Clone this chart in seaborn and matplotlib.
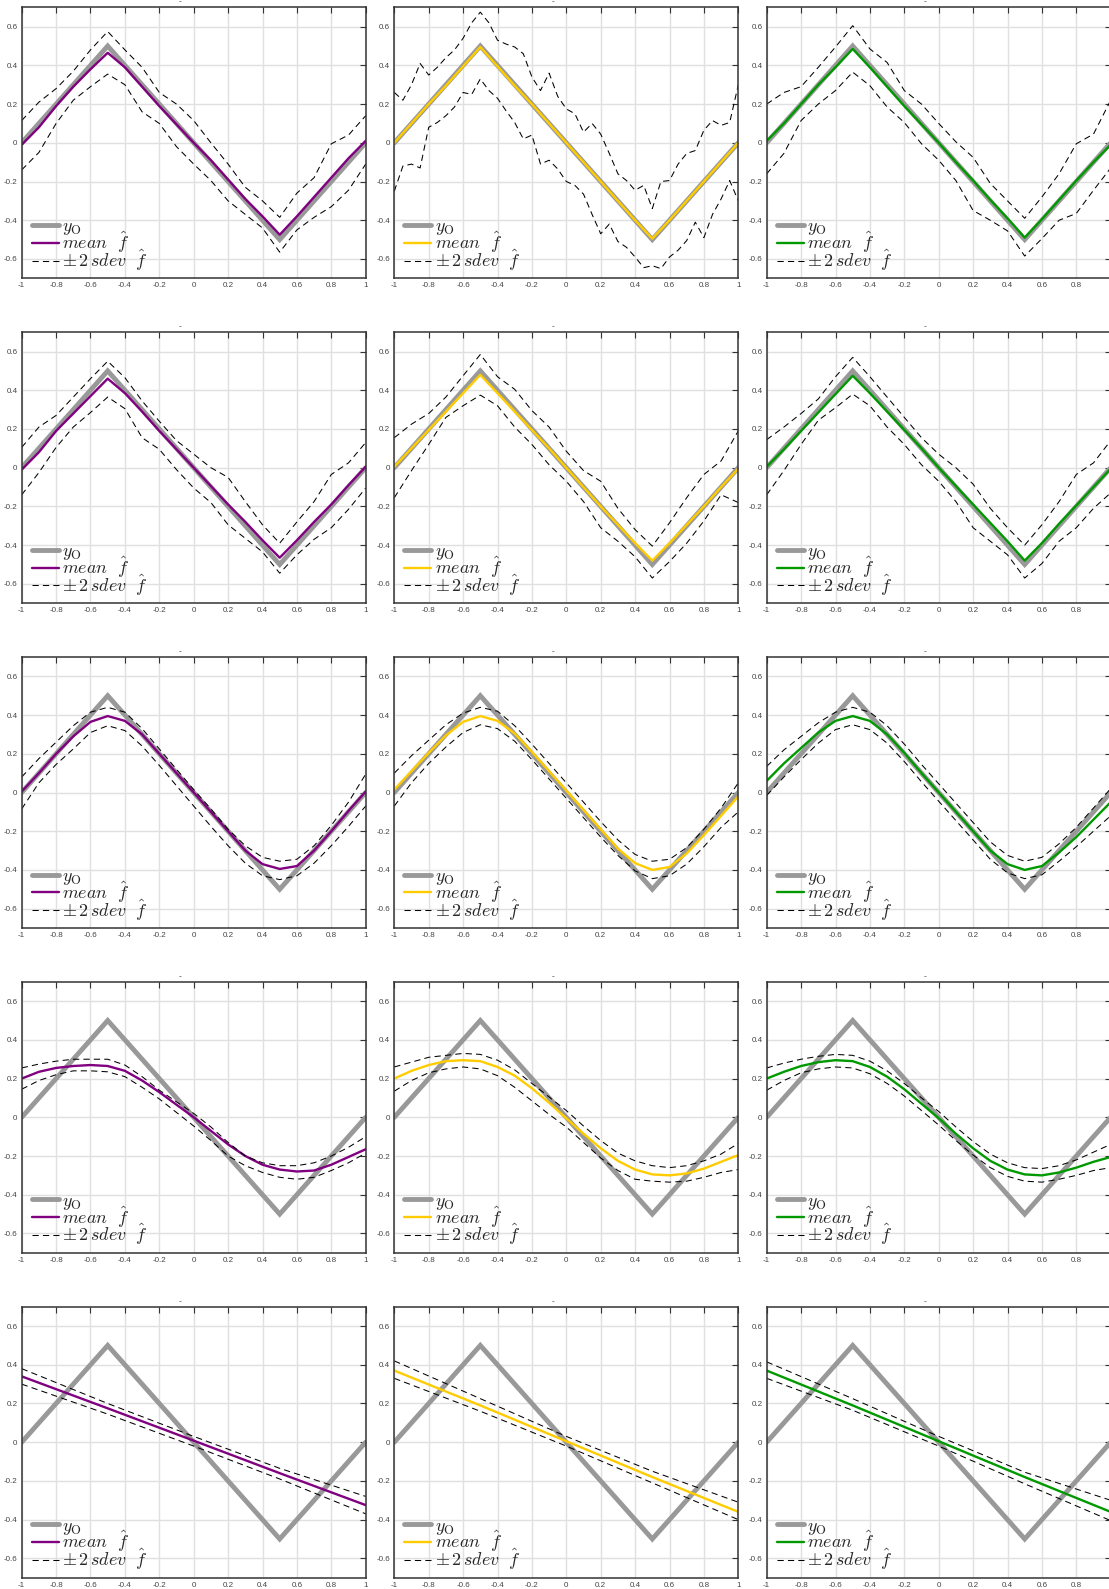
import numpy as np
import pandas as pd
import matplotlib
matplotlib.use("Agg")
import matplotlib.pyplot as plt
from matplotlib.lines import Line2D
import seaborn as sns

# ---------------- data ----------------
X21 = [-1.0, -0.9, -0.8, -0.7, -0.6, -0.5, -0.4, -0.3, -0.2, -0.1, 0.0,
       0.1, 0.2, 0.3, 0.4, 0.5, 0.6, 0.7, 0.8, 0.9, 1.0]
X41 = [-1.0, -0.95, -0.9, -0.85, -0.8, -0.75, -0.7, -0.65, -0.6, -0.55, -0.5,
       -0.45, -0.4, -0.35, -0.3, -0.25, -0.2, -0.15, -0.1, -0.05, 0.0,
       0.05, 0.1, 0.15, 0.2, 0.25, 0.3, 0.35, 0.4, 0.45, 0.5,
       0.55, 0.6, 0.65, 0.7, 0.75, 0.8, 0.85, 0.9, 0.95, 1.0]
X5 = [-1.0, -0.5, 0.0, 0.5, 1.0]

y0_x = [-1.0, -0.5, 0.5, 1.0]
y0_y = [0.0, 0.5, -0.5, 0.0]

# row 1
mean_r1c1 = [-0.01, 0.08, 0.19, 0.29, 0.38, 0.465, 0.39, 0.29, 0.19, 0.095, 0.0,
             -0.09, -0.19, -0.29, -0.38, -0.475, -0.38, -0.28, -0.18, -0.08, 0.01]
up_r1c1 = [0.115, 0.21, 0.28, 0.37, 0.48, 0.575, 0.48, 0.39, 0.26, 0.2, 0.115,
           0.0, -0.11, -0.23, -0.30, -0.385, -0.26, -0.18, -0.005, 0.04, 0.14]
lo_r1c1 = [-0.14, -0.05, 0.1, 0.22, 0.29, 0.355, 0.30, 0.16, 0.10, -0.02, -0.11,
           -0.195, -0.30, -0.37, -0.44, -0.565, -0.45, -0.385, -0.33, -0.245, -0.11]

mean_r1c2 = [0.0, 0.1, 0.2, 0.295, 0.395, 0.495, 0.395, 0.295, 0.2, 0.1, 0.0,
             -0.1, -0.2, -0.3, -0.4, -0.495, -0.4, -0.3, -0.2, -0.1, 0.0]
up_r1c2 = [0.26, 0.22, 0.30, 0.41, 0.35, 0.39, 0.44, 0.48, 0.54, 0.62, 0.675,
           0.62, 0.53, 0.51, 0.495, 0.46, 0.34, 0.27, 0.36, 0.24, 0.175,
           0.15, 0.055, 0.10, 0.045, -0.055, -0.16, -0.195, -0.245, -0.22, -0.34,
           -0.20, -0.195, -0.11, -0.055, -0.04, 0.065, 0.115, 0.09, 0.105, 0.30]
lo_r1c2 = [-0.25, -0.12, -0.11, -0.13, 0.08, 0.105, 0.14, 0.185, 0.26, 0.25, 0.33,
           0.27, 0.23, 0.165, 0.105, 0.02, 0.04, -0.11, -0.09, -0.135, -0.20,
           -0.22, -0.265, -0.37, -0.47, -0.42, -0.51, -0.54, -0.59, -0.645, -0.635,
           -0.65, -0.59, -0.555, -0.505, -0.41, -0.49, -0.37, -0.29, -0.195, -0.30]

mean_r1c3 = [0.01, 0.1, 0.2, 0.3, 0.39, 0.485, 0.39, 0.29, 0.19, 0.095, 0.0,
             -0.1, -0.195, -0.295, -0.39, -0.49, -0.395, -0.295, -0.195, -0.1, -0.01]
up_r1c3 = [0.2, 0.26, 0.29, 0.39, 0.495, 0.605, 0.485, 0.415, 0.27, 0.2, 0.1,
           0.005, -0.075, -0.21, -0.30, -0.39, -0.28, -0.16, -0.005, 0.045, 0.22]
lo_r1c3 = [-0.16, -0.055, 0.115, 0.2, 0.27, 0.365, 0.295, 0.185, 0.105, -0.005, -0.09,
           -0.195, -0.35, -0.40, -0.455, -0.585, -0.495, -0.40, -0.365, -0.245, -0.13]

# row 2
mean_r2c1 = [-0.01, 0.08, 0.19, 0.28, 0.37, 0.46, 0.385, 0.29, 0.19, 0.095, 0.0,
             -0.095, -0.19, -0.28, -0.375, -0.465, -0.375, -0.28, -0.19, -0.09, 0.005]
up_r2c1 = [0.105, 0.21, 0.27, 0.365, 0.46, 0.55, 0.465, 0.345, 0.24, 0.14, 0.07,
           0.0, -0.05, -0.175, -0.295, -0.39, -0.28, -0.175, -0.035, 0.025, 0.13]
lo_r2c1 = [-0.14, -0.025, 0.105, 0.21, 0.285, 0.365, 0.305, 0.155, 0.095, -0.01, -0.105,
           -0.18, -0.295, -0.365, -0.435, -0.545, -0.45, -0.37, -0.31, -0.215, -0.105]

mean_r2c2 = [0.005, 0.1, 0.195, 0.29, 0.385, 0.48, 0.385, 0.29, 0.195, 0.1, 0.0,
             -0.1, -0.2, -0.295, -0.39, -0.48, -0.39, -0.295, -0.2, -0.1, -0.005]
up_r2c2 = [0.155, 0.225, 0.28, 0.365, 0.475, 0.585, 0.47, 0.405, 0.295, 0.21, 0.085,
           -0.015, -0.07, -0.21, -0.32, -0.405, -0.285, -0.155, -0.035, 0.035, 0.19]
lo_r2c2 = [-0.155, -0.015, 0.12, 0.26, 0.32, 0.375, 0.32, 0.21, 0.12, 0.015, -0.07,
           -0.175, -0.31, -0.38, -0.46, -0.57, -0.485, -0.39, -0.275, -0.14, -0.18]

mean_r2c3 = [0.005, 0.095, 0.19, 0.285, 0.38, 0.475, 0.385, 0.29, 0.195, 0.1, 0.0,
             -0.095, -0.19, -0.285, -0.38, -0.48, -0.39, -0.29, -0.195, -0.1, -0.005]
up_r2c3 = [0.145, 0.21, 0.28, 0.355, 0.47, 0.57, 0.47, 0.365, 0.26, 0.155, 0.07,
           0.0, -0.085, -0.21, -0.31, -0.40, -0.295, -0.175, -0.035, 0.025, 0.14]
lo_r2c3 = [-0.14, -0.015, 0.12, 0.245, 0.31, 0.38, 0.32, 0.21, 0.12, 0.015, -0.07,
           -0.175, -0.31, -0.38, -0.45, -0.57, -0.495, -0.38, -0.31, -0.21, -0.13]

# row 3
mean_r3c1 = [0.005, 0.1, 0.2, 0.29, 0.365, 0.395, 0.37, 0.3, 0.2, 0.1, 0.0,
             -0.1, -0.2, -0.3, -0.37, -0.395, -0.38, -0.3, -0.2, -0.095, 0.005]
up_r3c1 = [0.08, 0.175, 0.26, 0.345, 0.415, 0.44, 0.415, 0.33, 0.225, 0.12, 0.015,
           -0.085, -0.19, -0.275, -0.335, -0.355, -0.345, -0.275, -0.17, -0.05, 0.095]
lo_r3c1 = [-0.085, 0.05, 0.145, 0.225, 0.31, 0.345, 0.32, 0.24, 0.14, 0.035, -0.07,
           -0.175, -0.275, -0.365, -0.43, -0.45, -0.43, -0.365, -0.275, -0.175, -0.07]

mean_r3c2 = [0.015, 0.11, 0.205, 0.295, 0.365, 0.395, 0.37, 0.305, 0.21, 0.11, 0.01,
             -0.09, -0.19, -0.29, -0.365, -0.40, -0.385, -0.315, -0.22, -0.12, -0.02]
up_r3c2 = [0.1, 0.19, 0.27, 0.35, 0.41, 0.44, 0.42, 0.345, 0.25, 0.15, 0.05,
           -0.05, -0.15, -0.245, -0.32, -0.355, -0.345, -0.285, -0.19, -0.08, 0.05]
lo_r3c2 = [-0.07, 0.05, 0.15, 0.235, 0.31, 0.35, 0.33, 0.265, 0.17, 0.07, -0.03,
           -0.13, -0.23, -0.325, -0.405, -0.445, -0.43, -0.37, -0.28, -0.18, -0.1]

mean_r3c3 = [0.06, 0.15, 0.23, 0.31, 0.37, 0.395, 0.37, 0.3, 0.205, 0.1, 0.0,
             -0.1, -0.2, -0.3, -0.37, -0.40, -0.38, -0.31, -0.23, -0.14, -0.05]
up_r3c3 = [0.135, 0.22, 0.29, 0.36, 0.415, 0.44, 0.415, 0.345, 0.25, 0.145, 0.045,
           -0.055, -0.155, -0.255, -0.325, -0.355, -0.335, -0.265, -0.18, -0.08, 0.02]
lo_r3c3 = [-0.015, 0.08, 0.17, 0.255, 0.325, 0.35, 0.325, 0.255, 0.16, 0.055, -0.045,
           -0.145, -0.245, -0.345, -0.415, -0.445, -0.425, -0.355, -0.28, -0.2, -0.12]

# row 4
mean_r4c1 = [0.2, 0.235, 0.255, 0.265, 0.27, 0.265, 0.24, 0.19, 0.13, 0.065, 0.0,
             -0.07, -0.14, -0.2, -0.245, -0.27, -0.28, -0.275, -0.245, -0.205, -0.165]
up_r4c1 = [0.255, 0.275, 0.29, 0.3, 0.3, 0.3, 0.27, 0.21, 0.14, 0.08, 0.02,
           -0.05, -0.13, -0.2, -0.235, -0.25, -0.25, -0.235, -0.2, -0.155, -0.1]
lo_r4c1 = [0.145, 0.19, 0.22, 0.24, 0.24, 0.235, 0.21, 0.155, 0.095, 0.025, -0.045,
           -0.12, -0.2, -0.25, -0.285, -0.31, -0.32, -0.31, -0.275, -0.235, -0.185]

mean_r4c2 = [0.2, 0.24, 0.27, 0.29, 0.295, 0.29, 0.26, 0.215, 0.15, 0.075, -0.005,
             -0.085, -0.16, -0.225, -0.27, -0.295, -0.3, -0.29, -0.265, -0.23, -0.195]
up_r4c2 = [0.26, 0.285, 0.31, 0.32, 0.33, 0.325, 0.295, 0.245, 0.175, 0.105, 0.035,
           -0.045, -0.12, -0.185, -0.225, -0.25, -0.26, -0.25, -0.225, -0.19, -0.135]
lo_r4c2 = [0.135, 0.19, 0.23, 0.25, 0.26, 0.25, 0.215, 0.155, 0.085, 0.015, -0.05,
           -0.13, -0.21, -0.275, -0.32, -0.33, -0.335, -0.33, -0.31, -0.285, -0.27]

mean_r4c3 = [0.2, 0.235, 0.265, 0.285, 0.295, 0.29, 0.26, 0.21, 0.145, 0.07, -0.005,
             -0.085, -0.16, -0.225, -0.27, -0.295, -0.3, -0.285, -0.26, -0.23, -0.205]
up_r4c3 = [0.255, 0.28, 0.3, 0.315, 0.325, 0.32, 0.29, 0.24, 0.175, 0.1, 0.03,
           -0.05, -0.125, -0.19, -0.235, -0.26, -0.265, -0.25, -0.22, -0.18, -0.14]
lo_r4c3 = [0.14, 0.19, 0.23, 0.25, 0.26, 0.255, 0.225, 0.175, 0.11, 0.035, -0.04,
           -0.12, -0.195, -0.26, -0.305, -0.33, -0.335, -0.32, -0.3, -0.275, -0.26]

# row 5
mean_r5c1 = [0.34, 0.175, 0.008, -0.16, -0.325]
up_r5c1 = [0.38, 0.2, 0.03, -0.135, -0.28]
lo_r5c1 = [0.3, 0.145, -0.02, -0.19, -0.37]

mean_r5c2 = [0.37, 0.19, 0.005, -0.18, -0.36]
up_r5c2 = [0.42, 0.225, 0.03, -0.15, -0.31]
lo_r5c2 = [0.33, 0.16, -0.02, -0.21, -0.40]

mean_r5c3 = [0.37, 0.19, 0.005, -0.18, -0.36]
up_r5c3 = [0.415, 0.225, 0.03, -0.155, -0.30]
lo_r5c3 = [0.33, 0.165, -0.02, -0.215, -0.405]

col_colors = ["#800080", "#FFCC00", "#009900"]

panels = [
    [(X21, mean_r1c1, X21, up_r1c1, lo_r1c1),
     (X21, mean_r1c2, X41, up_r1c2, lo_r1c2),
     (X21, mean_r1c3, X21, up_r1c3, lo_r1c3)],
    [(X21, mean_r2c1, X21, up_r2c1, lo_r2c1),
     (X21, mean_r2c2, X21, up_r2c2, lo_r2c2),
     (X21, mean_r2c3, X21, up_r2c3, lo_r2c3)],
    [(X21, mean_r3c1, X21, up_r3c1, lo_r3c1),
     (X21, mean_r3c2, X21, up_r3c2, lo_r3c2),
     (X21, mean_r3c3, X21, up_r3c3, lo_r3c3)],
    [(X21, mean_r4c1, X21, up_r4c1, lo_r4c1),
     (X21, mean_r4c2, X21, up_r4c2, lo_r4c2),
     (X21, mean_r4c3, X21, up_r4c3, lo_r4c3)],
    [(X5, mean_r5c1, X5, up_r5c1, lo_r5c1),
     (X5, mean_r5c2, X5, up_r5c2, lo_r5c2),
     (X5, mean_r5c3, X5, up_r5c3, lo_r5c3)],
]

xticks = [-1, -0.8, -0.6, -0.4, -0.2, 0, 0.2, 0.4, 0.6, 0.8, 1]
xticklabels = ["-1", "-0.8", "-0.6", "-0.4", "-0.2", "0", "0.2", "0.4", "0.6", "0.8", "1"]
yticks = [-0.6, -0.4, -0.2, 0, 0.2, 0.4, 0.6]
yticklabels = ["-0.6", "-0.4", "-0.2", "0", "0.2", "0.4", "0.6"]

legend_labels = [r"$y_{\mathrm{O}}$", r"$mean\ \ \hat{f}$", r"$\pm\,2\,sdev\ \ \hat{f}$"]

# ---------------- style ----------------
sns.set_theme(style="white")
plt.rcParams["font.family"] = ["Liberation Sans", "DejaVu Sans"]
plt.rcParams["mathtext.fontset"] = "cm"

W, H = 1109, 1589
fig = plt.figure(figsize=(W / 100, H / 100), dpi=100)
fig.patch.set_facecolor("white")

col_left = [21.7, 394.3, 766.7]
row_top = [7.3, 332.2, 657.0, 981.8, 1306.7]
aw, ah = 344.0, 271.0

GRAY = "#999999"
DASH = (0, (6, 4))

for r in range(5):
    for c in range(3):
        mx, my, bx, bu, bl = panels[r][c]
        ax = fig.add_axes([col_left[c] / W, 1 - (row_top[r] + ah) / H, aw / W, ah / H])
        ax.set_facecolor("white")
        sns.lineplot(x=y0_x, y=y0_y, ax=ax, color=GRAY, lw=3.5, legend=False,
                     solid_joinstyle="miter", sort=False)
        sns.lineplot(x=mx, y=my, ax=ax, color=col_colors[c], lw=1.7, legend=False, sort=False)
        sns.lineplot(x=bx, y=bu, ax=ax, color="black", lw=0.75, linestyle=DASH,
                     legend=False, sort=False)
        sns.lineplot(x=bx, y=bl, ax=ax, color="black", lw=0.75, linestyle=DASH,
                     legend=False, sort=False)
        ax.set_xlim(-1, 1)
        ax.set_ylim(-0.7, 0.7)
        ax.set_xticks(xticks)
        ax.set_xticklabels(xticklabels)
        ax.set_yticks(yticks)
        ax.set_yticklabels(yticklabels)
        ax.set_xlabel("")
        ax.set_ylabel("")
        ax.grid(True, color="#e0e0e0", lw=1.0)
        ax.set_axisbelow(True)
        ax.tick_params(direction="in", top=True, right=True, length=4, width=0.8,
                       color="#333333", labelsize=5.8, labelcolor="#444444", pad=3)
        for sp in ax.spines.values():
            sp.set_color("#333333")
            sp.set_linewidth(1.1)
            sp.set_visible(True)
        ax.text(0.46, 1.006, "-", transform=ax.transAxes, ha="center", va="bottom",
                fontsize=6, color="#333333")
        handles = [Line2D([], [], color=GRAY, lw=3.5),
                   Line2D([], [], color=col_colors[c], lw=1.7),
                   Line2D([], [], color="black", lw=0.75, linestyle=DASH)]
        ax.legend(handles, legend_labels, loc="lower left", bbox_to_anchor=(0.013, 0.0),
                  frameon=False, fontsize=13, handlelength=1.5, handletextpad=0.2,
                  labelspacing=-0.4, borderpad=0.1, borderaxespad=0.2)

fig.savefig("out.png", dpi=100, facecolor="white")
